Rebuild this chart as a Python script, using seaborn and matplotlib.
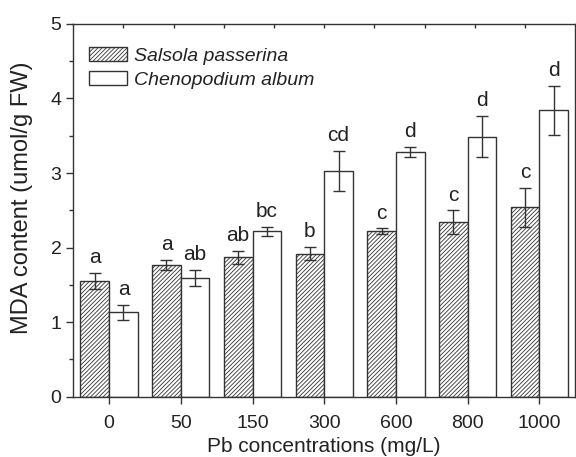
import numpy as np
import pandas as pd
import matplotlib
matplotlib.use("Agg")
import matplotlib.pyplot as plt
from matplotlib.ticker import MultipleLocator
import seaborn as sns

# MDA content for the two species under Pb treatment
conc = ["0", "50", "150", "300", "600", "800", "1000"]
species = ["Salsola passerina", "Chenopodium album"]
salsola = [1.55, 1.77, 1.87, 1.92, 2.22, 2.34, 2.54]
salsola_err = [0.11, 0.07, 0.09, 0.09, 0.04, 0.16, 0.26]
salsola_sig = ["a", "a", "ab", "b", "c", "c", "c"]
cheno = [1.13, 1.59, 2.22, 3.03, 3.28, 3.49, 3.84]
cheno_err = [0.10, 0.11, 0.06, 0.27, 0.07, 0.28, 0.33]
cheno_sig = ["a", "ab", "bc", "cd", "d", "d", "d"]

df = pd.DataFrame({
    "conc": conc * 2,
    "species": [species[0]] * len(conc) + [species[1]] * len(conc),
    "mda": salsola + cheno,
})

sns.set_style("ticks")
plt.rcParams["font.family"] = ["Liberation Sans", "DejaVu Sans"]
plt.rcParams["hatch.color"] = "#333333"
plt.rcParams["hatch.linewidth"] = 0.6

fig = plt.figure(figsize=(5.76, 4.57), dpi=100)
ax = fig.add_axes([0.1273, 0.132, 0.871, 0.8156])

sns.barplot(data=df, x="conc", y="mda", hue="species", order=conc,
            hue_order=species, palette=["white", "white"], edgecolor="#333333",
            linewidth=1.0, width=0.8, errorbar=None, ax=ax)

hatch = "////////"
bars = ax.patches[:2 * len(conc)]
for p in bars[:len(conc)]:
    p.set_hatch(hatch)

# error bars and significance letters, placed on the drawn bars
for group, errs, sigs in [(bars[:len(conc)], salsola_err, salsola_sig),
                          (bars[len(conc):2 * len(conc)], cheno_err, cheno_sig)]:
    for p, e, s in zip(group, errs, sigs):
        xc = p.get_x() + p.get_width() / 2
        h = p.get_height()
        ax.errorbar(xc, h, yerr=e, color="#333333", capsize=4, elinewidth=1,
                    capthick=1, fmt="none")
        ax.annotate(s, (xc, h + e), xytext=(0, 4), textcoords="offset points",
                    ha="center", va="bottom", fontsize=15, color="#222222")

ax.set_ylim(0, 5)
ax.set_xlim(-0.5, 6.5)
ax.yaxis.set_major_locator(MultipleLocator(1))
ax.yaxis.set_minor_locator(MultipleLocator(0.5))
ax.tick_params(axis="both", which="major", direction="out", length=5,
               width=1, labelsize=14, color="#333333", labelcolor="#222222")
ax.tick_params(axis="x", which="major", pad=8)
ax.tick_params(axis="y", which="minor", direction="out", length=3, width=1,
               color="#333333")
for sp in ax.spines.values():
    sp.set_visible(True)
    sp.set_color("#333333")
    sp.set_linewidth(1)

top = ax.secondary_xaxis("top")
top.set_xticks([-0.5 + 0.7 * k for k in range(1, 10)])
top.set_xticklabels([])
top.tick_params(direction="in", length=3, width=1, color="#333333")
top.spines["top"].set_visible(False)

ax.set_xlabel("Pb concentrations (mg/L)", fontsize=15, labelpad=4,
              color="#222222")
ax.set_ylabel("MDA content (umol/g FW)", fontsize=17, color="#222222")
ax.yaxis.set_label_coords(-0.08, 0.535)

leg = ax.legend(loc="upper left", bbox_to_anchor=(0.015, 0.958), frameon=False,
                fontsize=14, handlelength=1.95, handleheight=0.72,
                handletextpad=0.4, labelspacing=0.3, borderaxespad=0)
leg.legend_handles[0].set_hatch(hatch)
for t in leg.get_texts():
    t.set_fontstyle("italic")
    t.set_color("#222222")

fig.savefig("out.png", dpi=100)
